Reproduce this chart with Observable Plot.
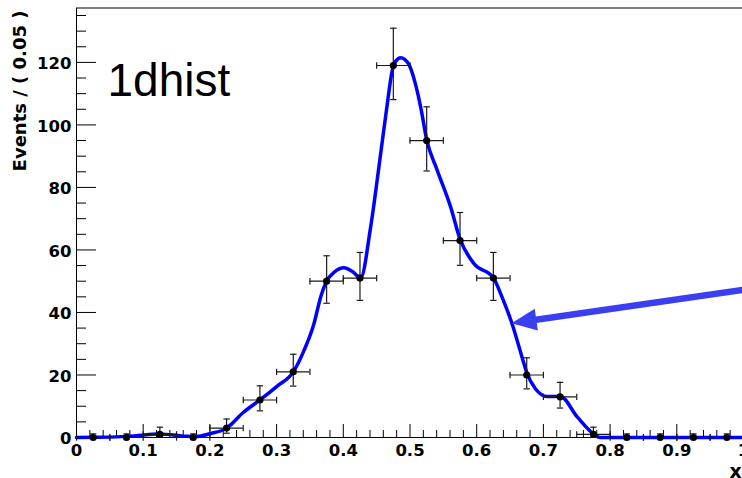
<!DOCTYPE html>
<html>
<head>
<meta charset="utf-8">
<script src="https://cdn.jsdelivr.net/npm/d3@7"></script>
<script src="https://cdn.jsdelivr.net/npm/@observablehq/plot@0.6"></script>
<style>
  html, body { margin: 0; padding: 0; background: white; overflow: hidden; }
  #chart svg { display: block; }
</style>
</head>
<body>
<div id="chart"></div>
<script>
// ---- data ----
const binCenters = [0.025, 0.075, 0.125, 0.175, 0.225, 0.275, 0.325, 0.375, 0.425, 0.475,
                    0.525, 0.575, 0.625, 0.675, 0.725, 0.775, 0.825, 0.875, 0.925, 0.975];
const counts     = [0, 0, 1, 0, 3, 12, 21, 50, 51, 119, 95, 63, 51, 20, 13, 1, 0, 0, 0, 0];
const errLow     = [0, 0, 0.83, 0, 1.63, 3.46, 4.55, 7.06, 7.13, 10.91, 9.74, 7.92, 7.13, 4.44, 3.58, 0.83, 0, 0, 0, 0];
const errHigh    = [1.15, 1.15, 2.30, 1.15, 2.92, 4.53, 5.62, 8.13, 8.20, 11.94, 10.79, 8.98, 8.20, 5.50, 4.65, 2.30, 1.15, 1.15, 1.15, 1.15];
const binWidth = 0.05;

// smooth (kernel-estimate) curve
const curveX = [0, 0.03, 0.06, 0.09, 0.105, 0.12, 0.135, 0.15, 0.165, 0.18, 0.2, 0.225, 0.25, 0.275, 0.3, 0.325,
                0.341, 0.356, 0.366, 0.375, 0.387, 0.401, 0.414, 0.426, 0.441, 0.456, 0.466, 0.473, 0.479, 0.486,
                0.492, 0.498, 0.508, 0.516, 0.525, 0.541, 0.561, 0.575, 0.596, 0.625, 0.638, 0.653, 0.668, 0.675,
                0.688, 0.706, 0.725, 0.751, 0.776, 0.785, 0.8, 1.0];
const curveY = [0, 0.05, 0.2, 0.6, 0.9, 1.1, 1.0, 0.7, 0.4, 0.3, 1.2, 3, 8, 12, 16.3, 21,
                27.8, 36.4, 44.9, 50, 53, 54.3, 53, 51.1, 67.3, 90.8, 106.8, 117, 120.5, 121.5,
                121, 119.5, 113.2, 105.7, 95.3, 85.4, 73.7, 63.5, 55.6, 51.1, 44.9, 36.4, 25.7, 20.8,
                15.6, 13.1, 13.2, 6.5, 1, 0, 0, 0];

// axis ticks and labels
const xMajor = [0, 0.1, 0.2, 0.3, 0.4, 0.5, 0.6, 0.7, 0.8, 0.9, 1];
const xMinor = [0.02,0.04,0.06,0.08,0.12,0.14,0.16,0.18,0.22,0.24,0.26,0.28,0.32,0.34,0.36,0.38,
                0.42,0.44,0.46,0.48,0.52,0.54,0.56,0.58,0.62,0.64,0.66,0.68,0.72,0.74,0.76,0.78,
                0.82,0.84,0.86,0.88,0.92,0.94,0.96,0.98];
const yMajor = [0, 20, 40, 60, 80, 100, 120];
const yMinor = [5,10,15,25,30,35,45,50,55,65,70,75,85,90,95,105,110,115,125,130,135];
const yDomain = [0, 137.4];

const title = "1dhist";
const xTitle = "x";
const yTitle = "Events / ( 0.05 )";

// annotation arrow (data coordinates: from, to)
const arrowFrom = [1.0, 47.1];
const arrowTo = [0.653, 36.4];

// ---- build ----
const points = binCenters.map((x, i) => ({x, y: counts[i], lo: counts[i] - errLow[i], hi: counts[i] + errHigh[i]}));
const curve = curveX.map((x, i) => ({x, y: curveY[i]}));

const W = 742, H = 478;
const mL = 76, mT = 7.5, mB = 41, mR = -1;
const plotW = W - mL - mR, plotH = H - mT - mB;

const capH = {draw(ctx, size) { const r = Math.sqrt(size / Math.PI); ctx.moveTo(-r, 0); ctx.lineTo(r, 0); }};
const capV = {draw(ctx, size) { const r = Math.sqrt(size / Math.PI); ctx.moveTo(0, -r); ctx.lineTo(0, r); }};

const tickFont = {fontFamily: "DejaVu Sans", fontWeight: "bold", fontSize: 16.5};
const errColor = "#1a1a1a";
const errW = 1.2;

function arrowMark(index, scales) {
  const x1 = scales.x(arrowFrom[0]), y1 = scales.y(arrowFrom[1]);
  const x2 = scales.x(arrowTo[0]), y2 = scales.y(arrowTo[1]);
  const a = Math.atan2(y2 - y1, x2 - x1);
  const L = 25, hw = 11;
  const bx = x2 - L * Math.cos(a), by = y2 - L * Math.sin(a);
  const nx = -Math.sin(a), ny = Math.cos(a);
  const g = d3.create("svg:g");
  g.append("line").attr("x1", x1).attr("y1", y1).attr("x2", bx + 2 * Math.cos(a)).attr("y2", by + 2 * Math.sin(a))
    .attr("stroke", "#3b3ff2").attr("stroke-width", 6.5);
  g.append("polygon")
    .attr("points", `${x2},${y2} ${bx + hw * nx},${by + hw * ny} ${bx - hw * nx},${by - hw * ny}`)
    .attr("fill", "#3b3ff2");
  return g.node();
}

const chart = Plot.plot({
  width: W, height: H,
  marginLeft: mL, marginTop: mT, marginBottom: mB, marginRight: mR,
  style: {background: "white", fontFamily: "DejaVu Sans"},
  x: {domain: [0, 1]},
  y: {domain: yDomain},
  marks: [
    // ticks inside the frame
    Plot.tickX(xMinor, {x: d => d, insetTop: plotH - 7, stroke: "black", strokeWidth: 1}),
    Plot.tickX(xMajor, {x: d => d, insetTop: plotH - 13, stroke: "black", strokeWidth: 1}),
    Plot.tickY(yMinor, {y: d => d, insetRight: plotW - 10, stroke: "black", strokeWidth: 1}),
    Plot.tickY(yMajor, {y: d => d, insetRight: plotW - 20, stroke: "black", strokeWidth: 1}),
    Plot.axisX({ticks: xMajor, tickSize: 0, tickPadding: 7, tickFormat: d => String(d), label: null, ...tickFont, fill: "black"}),
    Plot.axisY({ticks: yMajor, tickSize: 0, tickPadding: 5, tickFormat: d => String(d), label: null, dy: 1.5, ...tickFont, fill: "black"}),
    Plot.frame({stroke: "black", strokeWidth: 1}),
    // curve
    Plot.line(curve, {x: "x", y: "y", stroke: "#0000ff", strokeWidth: 3.5, curve: "monotone-x"}),
    // error bars
    Plot.ruleX(points, {x: "x", y1: "lo", y2: "hi", stroke: errColor, strokeWidth: errW}),
    Plot.ruleY(points, {y: "y", x1: d => d.x - binWidth / 2, x2: d => d.x + binWidth / 2, stroke: errColor, strokeWidth: errW}),
    Plot.dot(points, {x: "x", y: "lo", symbol: capH, r: 3.2, stroke: errColor, fill: "none", strokeWidth: errW}),
    Plot.dot(points, {x: "x", y: "hi", symbol: capH, r: 3.2, stroke: errColor, fill: "none", strokeWidth: errW}),
    Plot.dot(points, {x: d => d.x - binWidth / 2, y: "y", symbol: capV, r: 3.2, stroke: errColor, fill: "none", strokeWidth: errW}),
    Plot.dot(points, {x: d => d.x + binWidth / 2, y: "y", symbol: capV, r: 3.2, stroke: errColor, fill: "none", strokeWidth: errW}),
    Plot.dot(points, {x: "x", y: "y", r: 3.6, fill: "black", stroke: "none"}),
    // annotation arrow
    arrowMark,
    // texts
    Plot.text([title], {text: d => d, frameAnchor: "top-left", textAnchor: "start", lineAnchor: "bottom",
      dx: 31, dy: 87.5, fontSize: 46, fontFamily: "Liberation Sans", fill: "black"}),
    Plot.text([yTitle], {text: d => d, frameAnchor: "top-left", rotate: -90, textAnchor: "end", lineAnchor: "middle",
      dx: -56, dy: 2.5, fontSize: 18, fontFamily: "DejaVu Sans", fontWeight: "bold", fill: "black"}),
    Plot.text([xTitle], {text: d => d, frameAnchor: "bottom-right", textAnchor: "middle", lineAnchor: "bottom",
      dx: -8, dy: 40, fontSize: 19, fontFamily: "DejaVu Sans", fontWeight: "bold", fill: "black"})
  ]
});
document.getElementById("chart").appendChild(chart);
</script>
</body>
</html>
